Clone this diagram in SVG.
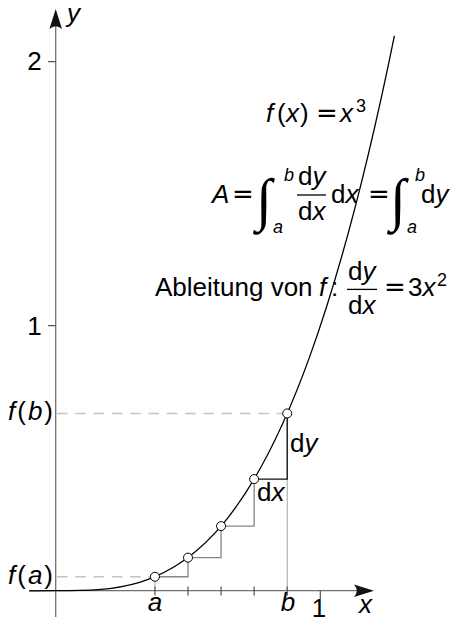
<svg xmlns="http://www.w3.org/2000/svg" width="451" height="622" viewBox="0 0 451 622">
<style>
.t{font-family:"Liberation Sans",Arial,sans-serif;font-size:26px;fill:#000}
.i{font-style:italic}
.s{font-size:18px}
.eq{font-family:"DejaVu Sans",sans-serif}
.int{font-family:"Liberation Serif","Times New Roman",serif;font-size:58px}
.ax{stroke:#707070;stroke-width:1.3;fill:none}
.tick{stroke:#555;stroke-width:1.2;fill:none}
.dash{stroke:#c4c4c4;stroke-width:1.5;stroke-dasharray:10.5 7.8;fill:none}
.thin{stroke:#999;stroke-width:0.9;fill:none}
.step{stroke:#858585;stroke-width:1.3;fill:none}
.stepk{stroke:#111;stroke-width:1.3;fill:none}
.bar{stroke:#000;stroke-width:1.3}
.pt{fill:#fff;stroke:#000;stroke-width:1}
</style>
<rect width="451" height="622" fill="#fff"/>
<g id="guides">
<path class="dash" d="M57,576.75H154.93M57,413.44H287.23"/>
<path class="thin" d="M154.93,576.75V590.7M287.23,413.44V590.7"/>
</g>
<g id="axes">
<path class="ax" d="M29,590.7H368M55.7,617V16"/>
<path d="M374,590.7L354,584.4Q359.5,590.7 354,597Z" fill="#111"/>
<path d="M55.7,9L49.4,29Q55.7,23.5 62,29Z" fill="#111"/>
<path class="tick" d="M154.93,586.5V595.5M188,586.5V595.5M221.08,586.5V595.5M254.15,586.5V595.5M287.23,586.5V595.5M320.3,590.7V599M48,61.7H55.7M48,325.7H55.7"/>
</g>
<g id="connectors">
<path class="step" d="M154.93,576.75H188V557.63H221.08V526.1H254.15V479.07"/>
<path class="stepk" d="M254.15,479.07H287.23V413.44"/>
<path id="curve" d="M29.24,590.96C150.96,587.31 272.67,634.05 394.39,35.8" fill="none" stroke="#000" stroke-width="1.3"/>
</g>
<g id="points">
<circle class="pt" cx="154.93" cy="576.75" r="4.5"/>
<circle class="pt" cx="188" cy="557.63" r="4.5"/>
<circle class="pt" cx="221.08" cy="526.1" r="4.5"/>
<circle class="pt" cx="254.15" cy="479.07" r="4.5"/>
<circle class="pt" cx="287.23" cy="413.44" r="4.5"/>
</g>
<g id="axis-labels">
<text class="t i" x="67" y="22">y</text>
<text class="t i" x="359" y="613">x</text>
<text class="t" x="34.5" y="70" text-anchor="middle">2</text>
<text class="t" x="34.5" y="335" text-anchor="middle">1</text>
<text class="t" x="319" y="617" text-anchor="middle">1</text>
<text class="t i" x="155" y="611" text-anchor="middle">a</text>
<text class="t i" x="288" y="611" text-anchor="middle">b</text>
<text class="t" x="8" y="420" textLength="45" lengthAdjust="spacing"><tspan class="i">f</tspan>(<tspan class="i">b</tspan>)</text>
<text class="t" x="8" y="584" textLength="45" lengthAdjust="spacing"><tspan class="i">f</tspan>(<tspan class="i">a</tspan>)</text>
<text class="t" x="290" y="452">d<tspan class="i">y</tspan></text>
<text class="t" x="257" y="501">d<tspan class="i">x</tspan></text>
</g>
<g id="formula-f">
<text class="t" y="122"><tspan class="i" x="266">f</tspan><tspan x="277">(</tspan><tspan class="i" x="286">x</tspan><tspan x="300">)</tspan><tspan class="eq" x="316">=</tspan><tspan class="i" x="340">x</tspan></text>
<text class="t s" x="356" y="112">3</text>
</g>
<g id="formula-A">
<text class="t i" x="212" y="203">A</text>
<text class="t eq" x="232" y="203">=</text>
<text class="int" x="256" y="219">∫</text>
<text class="t s i" x="284" y="181">b</text>
<text class="t s i" x="273" y="233">a</text>
<text class="t" x="298" y="185">d<tspan class="i">y</tspan></text>
<line class="bar" x1="297" y1="195" x2="326" y2="195"/>
<text class="t" x="298" y="220">d<tspan class="i">x</tspan></text>
<text class="t" x="331" y="203">d<tspan class="i">x</tspan></text>
<text class="t eq" x="368" y="203">=</text>
<text class="int" x="390" y="219">∫</text>
<text class="t s i" x="415" y="181">b</text>
<text class="t s i" x="407" y="233">a</text>
<text class="t" x="421" y="203">d<tspan class="i">y</tspan></text>
</g>
<g id="formula-derivative">
<text class="t" x="155" y="296">Ableitung von <tspan class="i" x="319">f</tspan><tspan x="331">:</tspan></text>
<text class="t" x="348" y="280">d<tspan class="i">y</tspan></text>
<line class="bar" x1="347" y1="289.4" x2="377" y2="289.4"/>
<text class="t" x="348" y="314">d<tspan class="i">x</tspan></text>
<text class="t eq" x="384" y="296">=</text>
<text class="t" x="408" y="296">3<tspan class="i">x</tspan></text>
<text class="t s" x="437" y="286">2</text>
</g>
</svg>
